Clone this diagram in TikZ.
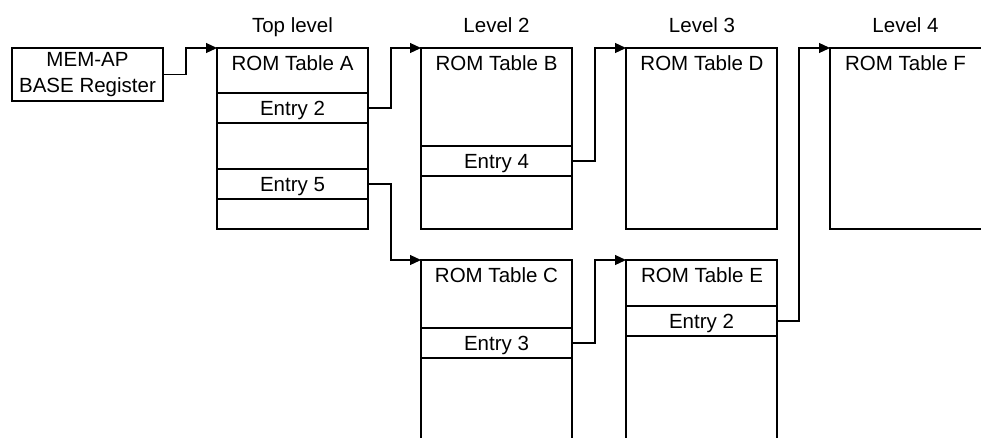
\documentclass[tikz,border=0pt]{standalone}
\usepackage{fontspec}
\setmainfont{Liberation Sans}
\usetikzlibrary{arrows.meta}
\begin{document}
\begin{tikzpicture}[x=1pt,y=-1pt,
  every node/.style={font=\fontsize{20.5}{26}\selectfont},
  box/.style={draw, line width=1.2pt, inner sep=0pt, outer sep=0pt, minimum width=151pt, anchor=north west},
  entrybox/.style={box, minimum height=30pt, text height=14.7pt, text depth=0pt},
  titletext/.style={anchor=base, inner sep=0pt},
  link/.style={draw, line width=1.2pt, -{Triangle[length=11pt,width=10pt]}}
]
\useasboundingbox (0,0) rectangle (981,437);
% level labels
\node[titletext] (L1) at (292.5,32) {Top level};
\node[titletext] (L2) at (496.5,32) {Level 2};
\node[titletext] (L3) at (702,32) {Level 3};
\node[titletext] (L4) at (905.5,32) {Level 4};
% MEM-AP
\node[draw, line width=1.2pt, inner sep=0pt, outer sep=0pt, minimum width=151pt, minimum height=53pt, align=center] (mem) at (87.5,74.5) {MEM-AP\\BASE Register};
% Tables
\node[box, minimum height=181pt] (tA) at (217,48) {};
\node[box, minimum height=181pt] (tB) at (421,48) {};
\node[box, minimum height=190pt] (tC) at (421,260) {};
\node[box, minimum height=181pt] (tD) at (626,48) {};
\node[box, minimum height=190pt] (tE) at (626,260) {};
\node[box, minimum height=181pt, minimum width=170pt] (tF) at (830,48) {};
% titles
\node[titletext] (tAt) at (292.5,70) {ROM Table A};
\node[titletext] (tBt) at (496.5,70) {ROM Table B};
\node[titletext] (tCt) at (496.5,282.5) {ROM Table C};
\node[titletext] (tDt) at (702,70) {ROM Table D};
\node[titletext] (tEt) at (702,282.5) {ROM Table E};
\node[titletext] (tFt) at (905.5,70) {ROM Table F};
% entries
\node[entrybox] (eA2) at (217,93) {Entry 2};
\node[entrybox] (eA5) at (217,169) {Entry 5};
\node[entrybox] (eB4) at (421,146) {Entry 4};
\node[entrybox] (eC3) at (421,328) {Entry 3};
\node[entrybox] (eE2) at (626,306) {Entry 2};
% connectors
\draw[link] (mem.east) -- ++(23,0) |- (tA.north west);
\draw[link] (eA2.east) -- ++(23,0) |- (tB.north west);
\draw[link] (eA5.east) -- ++(23,0) |- (tC.north west);
\draw[link] (eB4.east) -- ++(23,0) |- (tD.north west);
\draw[link] (eC3.east) -- ++(23,0) |- (tE.north west);
\draw[link] (eE2.east) -- ++(22,0) |- (tF.north west);
\end{tikzpicture}
\end{document}
